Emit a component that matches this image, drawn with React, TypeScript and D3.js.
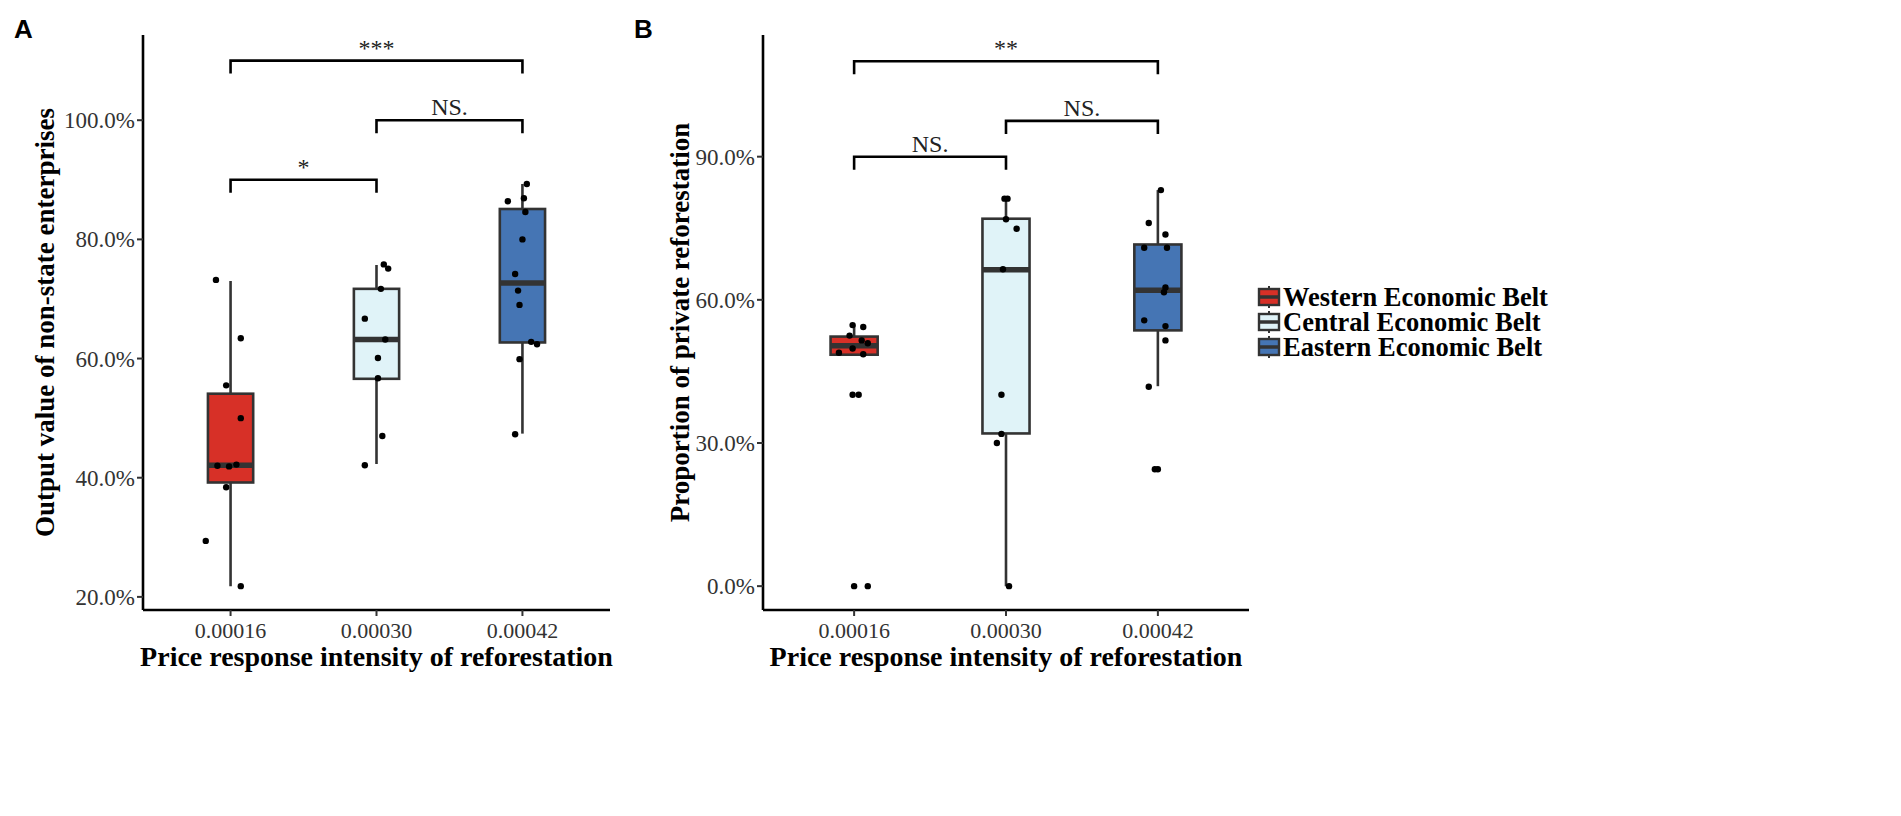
import * as d3 from "d3";

const groups = ["Western Economic Belt", "Central Economic Belt", "Eastern Economic Belt"];
const intensities = ["0.00016", "0.00030", "0.00042"];
const fills = ["#D73027", "#E0F3F8", "#4575B4"];

// Panel A: output value of non-state enterprises (%)
const outputBoxes = [
  // [lower whisker, q1, median, q3, upper whisker]
  [21.8, 39.2, 42.1, 54.1, 73.0],
  [42.3, 56.6, 63.2, 71.7, 75.7],
  [47.4, 62.7, 72.7, 85.1, 89.3],
];
const outputPoints = [
  [73.2, 63.4, 55.5, 50.0, 42.2, 42.0, 41.9, 38.4, 29.4, 21.8],
  [75.8, 75.1, 71.7, 66.7, 63.2, 60.1, 56.7, 47.0, 42.1],
  [89.3, 86.4, 86.9, 84.6, 80.0, 74.2, 71.4, 69.0, 62.8, 62.4, 59.9, 47.3],
];
// horizontal jitter, in category steps
const outputJitter = [
  [-0.1, 0.07, -0.03, 0.07, 0.04, -0.09, -0.01, -0.03, -0.17, 0.07],
  [0.05, 0.08, 0.03, -0.08, 0.06, 0.01, 0.01, 0.04, -0.08],
  [0.03, -0.1, 0.01, 0.02, 0, -0.05, -0.03, -0.02, 0.06, 0.1, -0.02, -0.05],
];
const outputBrackets = [
  { from: 0, to: 2, y: 110, label: "***" },
  { from: 1, to: 2, y: 100, label: "NS." },
  { from: 0, to: 1, y: 90, label: "*" },
];
const outputTicks = [20, 40, 60, 80, 100];

// Panel B: proportion of private reforestation (%)
const privateBoxes = [
  [48.5, 48.5, 50.4, 52.3, 54.7],
  [0, 32.0, 66.3, 77.0, 81.3],
  [41.9, 53.6, 62.0, 71.6, 83.0],
];
const privatePoints = [
  [54.7, 54.3, 52.5, 51.5, 50.9, 49.8, 48.9, 48.6, 40.1, 40.1, 0, 0],
  [81.2, 81.2, 76.9, 74.9, 66.4, 40.1, 31.9, 30.0, 0],
  [83.0, 76.1, 73.7, 70.9, 70.9, 62.6, 61.6, 55.7, 54.5, 51.5, 41.8, 24.5, 24.5],
];
const privateJitter = [
  [-0.01, 0.06, -0.03, 0.05, 0.09, -0.01, -0.1, 0.06, -0.01, 0.03, 0, 0.09],
  [-0.01, 0.01, 0, 0.07, -0.02, -0.03, -0.03, -0.06, 0.02],
  [0.02, -0.06, 0.05, -0.09, 0.06, 0.05, 0.04, -0.09, 0.05, 0.05, -0.06, -0.02, 0],
];
const privateBrackets = [
  { from: 0, to: 2, y: 110, label: "**" },
  { from: 1, to: 2, y: 97.5, label: "NS." },
  { from: 0, to: 1, y: 90, label: "NS." },
];
const privateTicks = [0, 30, 60, 90];

const serif = "'Liberation Serif', 'Times New Roman', serif";
const top = 35;
const bottom = 610;
const pct = d3.format(".1%");

const Panel = ({ letter, left, right, yDomain, ticks, boxes, points, jitter, brackets, yTitle, titleX }) => {
  const x = d3.scalePoint().domain(intensities).range([left, right]).padding(0.6);
  const step = x.step();
  const y = d3.scaleLinear().domain(yDomain).range([bottom, top]);
  const half = step * 0.155;

  return (
    <g>
      <text x={left - 129} y={38} fontFamily="'Liberation Sans', Arial, sans-serif" fontWeight="bold" fontSize={26}>
        {letter}
      </text>

      {boxes.map((b, i) => {
        const cx = x(intensities[i]);
        return (
          <g key={i}>
            <line x1={cx} x2={cx} y1={y(b[0])} y2={y(b[4])} stroke="#333" strokeWidth={2.6} />
            <rect
              x={cx - half}
              y={y(b[3])}
              width={half * 2}
              height={y(b[1]) - y(b[3])}
              fill={fills[i]}
              stroke="#333"
              strokeWidth={2.6}
            />
            <line x1={cx - half} x2={cx + half} y1={y(b[2])} y2={y(b[2])} stroke="#333" strokeWidth={5.5} />
          </g>
        );
      })}

      {points.map((vals, i) =>
        vals.map((v, j) => (
          <circle key={`${i}-${j}`} cx={x(intensities[i]) + jitter[i][j] * step} cy={y(v)} r={3.2} fill="#000" />
        ))
      )}

      {brackets.map((br, i) => {
        const x1 = x(intensities[br.from]);
        const x2 = x(intensities[br.to]);
        const yy = y(br.y);
        return (
          <g key={i}>
            <path d={`M${x1},${yy + 13}V${yy}H${x2}V${yy + 13}`} fill="none" stroke="#000" strokeWidth={2.6} />
            <text x={(x1 + x2) / 2} y={yy - 5} textAnchor="middle" fontFamily={serif} fontSize={24} fill="#222">
              {br.label}
            </text>
          </g>
        );
      })}

      <line x1={left} x2={left} y1={top} y2={bottom} stroke="#000" strokeWidth={2.6} />
      <line x1={left} x2={right} y1={bottom} y2={bottom} stroke="#000" strokeWidth={2.6} />

      {ticks.map((t) => (
        <g key={t}>
          <line x1={left - 6} x2={left} y1={y(t)} y2={y(t)} stroke="#333" strokeWidth={2} />
          <text x={left - 8} y={y(t)} dy="0.35em" textAnchor="end" fontFamily={serif} fontSize={23} fill="#333">
            {pct(t / 100)}
          </text>
        </g>
      ))}
      {intensities.map((c) => (
        <g key={c}>
          <line x1={x(c)} x2={x(c)} y1={bottom} y2={bottom + 6} stroke="#333" strokeWidth={2} />
          <text x={x(c)} y={638} textAnchor="middle" fontFamily={serif} fontSize={22} fill="#333">
            {c}
          </text>
        </g>
      ))}

      <text
        x={(left + right) / 2}
        y={666}
        textAnchor="middle"
        fontFamily={serif}
        fontWeight="bold"
        fontSize={28}
      >
        Price response intensity of reforestation
      </text>
      <text
        transform={`translate(${titleX},${(top + bottom) / 2}) rotate(-90)`}
        textAnchor="middle"
        dy="0.35em"
        fontFamily={serif}
        fontWeight="bold"
        fontSize={27}
      >
        {yTitle}
      </text>
    </g>
  );
};

const Legend = ({ x0, y0 }) => {
  const rowH = 25;
  const kw = 22;
  return (
    <g>
      {groups.map((g, i) => {
        const yy = y0 + i * rowH;
        const cx = x0 + kw / 2;
        return (
          <g key={g}>
            <line x1={cx} x2={cx} y1={yy - 11} y2={yy + 11} stroke="#333" strokeWidth={2} />
            <rect x={x0 + 1} y={yy - 8} width={kw - 2} height={16} fill={fills[i]} stroke="#333" strokeWidth={2.4} />
            <line x1={x0 + 1} x2={x0 + kw - 1} y1={yy} y2={yy} stroke="#333" strokeWidth={3.5} />
            <text x={x0 + kw + 3} y={yy} dy="0.35em" fontFamily={serif} fontWeight="bold" fontSize={26.5}>
              {g}
            </text>
          </g>
        );
      })}
    </g>
  );
};

export default function App() {
  return (
    <svg
      width={1901}
      height={816}
      style={{ position: "absolute", left: 0, top: 0, background: "#fff" }}
    >
      <Panel
        letter="A"
        left={143}
        right={610}
        yDomain={[17.8, 114.3]}
        ticks={outputTicks}
        boxes={outputBoxes}
        points={outputPoints}
        jitter={outputJitter}
        brackets={outputBrackets}
        yTitle="Output value of non-state enterprises"
        titleX={45}
      />
      <Panel
        letter="B"
        left={763}
        right={1249}
        yDomain={[-5.0, 115.5]}
        ticks={privateTicks}
        boxes={privateBoxes}
        points={privatePoints}
        jitter={privateJitter}
        brackets={privateBrackets}
        yTitle="Proportion of private reforestation"
        titleX={680}
      />
      <Legend x0={1258} y0={297} />
    </svg>
  );
}
